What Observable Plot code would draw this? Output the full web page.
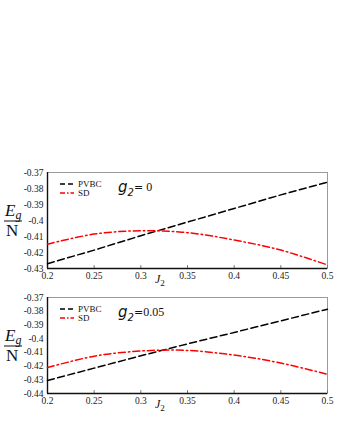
<!DOCTYPE html>
<html><head><meta charset="utf-8">
<script src="https://cdn.jsdelivr.net/npm/d3@7"></script>
<script src="https://cdn.jsdelivr.net/npm/@observablehq/plot@0.6"></script>
<style>
html,body{margin:0;padding:0;background:#fff}
body{width:340px;height:440px;position:relative;overflow:hidden}
.panel{position:absolute;left:0}
</style></head><body>
<script>
// ---- data ----
const j2 = [0.2, 0.25, 0.3, 0.35, 0.4, 0.45, 0.5];
const pvbcG0  = [-0.427, -0.4185, -0.4095, -0.401, -0.3925, -0.384, -0.376];
const sdG0    = [-0.4148, -0.4085, -0.4064, -0.4076, -0.4122, -0.4185, -0.4278];
const pvbcG05 = [-0.4305, -0.4215, -0.4125, -0.4038, -0.3955, -0.387, -0.3785];
const sdG05   = [-0.4211, -0.4128, -0.4090, -0.4086, -0.4120, -0.4178, -0.4260];
const xTicks = [0.2, 0.25, 0.3, 0.35, 0.4, 0.45, 0.5];
const yTicksG0  = [-0.43, -0.42, -0.41, -0.4, -0.39, -0.38, -0.37];
const yTicksG05 = [-0.44, -0.43, -0.42, -0.41, -0.4, -0.39, -0.38, -0.37];
const seriesNames = ["PVBC", "SD"];
const g2Labels = ["0", "0.05"];

const serif = "Liberation Serif";
const fmt = d => String(+d.toFixed(2));
const pvDash = "7,3.5";
const sdDash = "7,3,1.5,3";

function panel(top, pvbc, sd, yTicks, g2) {
  const rows = j2.map((x, i) => ({x, pv: pvbc[i], sd: sd[i]}));
  const yDom = [d3.min(yTicks), d3.max(yTicks)];
  const tickLen = (yDom[1] - yDom[0]) * 0.03;
  const plot = Plot.plot({
    width: 340, height: 125,
    marginLeft: 47, marginRight: 13, marginTop: 12, marginBottom: 17,
    style: {fontSize: "9px", background: "transparent", overflow: "visible"},
    x: {domain: [0.2, 0.5]},
    y: {domain: yDom},
    marks: [
      Plot.frame({stroke: "#9a9a9a", strokeWidth: 1}),
      Plot.axisY({ticks: yTicks, tickFormat: fmt, tickSize: 0, tickPadding: 4, label: null, fill: "#222", fontFamily: serif, fontSize: 9.5}),
      Plot.axisX({ticks: xTicks, tickFormat: fmt, tickSize: 0, tickPadding: 4, label: null, fill: "#222", fontFamily: serif, fontSize: 9.5}),
      Plot.ruleX(xTicks, {x: d => d, y1: yDom[0], y2: yDom[0] + tickLen, stroke: "#777"}),
      Plot.ruleX([0.2], {stroke: "#111", strokeWidth: 1.4}),
      Plot.ruleY([yDom[0]], {stroke: "#111", strokeWidth: 1.4}),
      Plot.line(rows, {x: "x", y: "pv", stroke: "#000", strokeWidth: 1.5, strokeDasharray: pvDash}),
      Plot.line(rows, {x: "x", y: "sd", stroke: "#ff0000", strokeWidth: 1.5, strokeDasharray: sdDash, curve: "catmull-rom"})
    ]
  });
  const wrap = document.createElement("div");
  wrap.className = "panel";
  wrap.style.top = top + "px";
  wrap.appendChild(plot);
  document.body.appendChild(wrap);

  const svg = d3.select(plot);
  svg.selectAll("text").style("font-family", serif);
  const grp = svg.append("g").attr("text-anchor", "start").style("font-family", serif);
  // legend
  const leg = [{name: seriesNames[0], dash: "5,3", c: "#000", y: 24}, {name: seriesNames[1], dash: "5,2,1.5,2", c: "#ff0000", y: 33}];
  for (const l of leg) {
    grp.append("line").attr("x1", 60).attr("x2", 74).attr("y1", l.y).attr("y2", l.y)
      .attr("stroke", l.c).attr("stroke-width", 1.5).attr("stroke-dasharray", l.dash);
    grp.append("text").attr("x", 78).attr("y", l.y + 3)
      .attr("font-size", 9).attr("fill", "#111").text(l.name);
  }
  // g2 label
  const g = grp.append("text").attr("x", 118).attr("y", 32).attr("fill", "#111");
  g.append("tspan").style("font-family", "DejaVu Sans").attr("font-style", "italic").attr("font-size", 15).text("g");
  g.append("tspan").style("font-family", "DejaVu Sans").attr("font-style", "italic").attr("font-size", 10).attr("dy", 4).text("2");
  g.append("tspan").style("font-family", "DejaVu Sans").attr("font-size", 11).attr("dy", -5).text("=");
  g.append("tspan").style("font-family", serif).attr("font-size", 12).text((g2 === "0" ? " " : "") + g2);
  // y label E_g / N
  const e = grp.append("text").attr("x", 5).attr("y", 56).attr("fill", "#111");
  e.append("tspan").attr("font-style", "italic").attr("font-size", 17).text("E");
  e.append("tspan").attr("font-style", "italic").attr("font-size", 12).attr("dy", 3).text("g");
  grp.append("line").attr("x1", 4).attr("x2", 22).attr("y1", 61).attr("y2", 61).attr("stroke", "#111").attr("stroke-width", 1);
  grp.append("text").attr("x", 6).attr("y", 76).attr("font-size", 17).attr("fill", "#111").text("N");
  // x label J_2
  const jl = grp.append("text").attr("x", 155).attr("y", 123).attr("fill", "#111");
  jl.append("tspan").attr("font-style", "italic").attr("font-size", 12).text("J");
  jl.append("tspan").attr("font-size", 9).attr("dy", 3).text("2");
}

panel(160, pvbcG0, sdG0, yTicksG0, g2Labels[0]);
panel(285, pvbcG05, sdG05, yTicksG05, g2Labels[1]);
</script>
</body></html>
